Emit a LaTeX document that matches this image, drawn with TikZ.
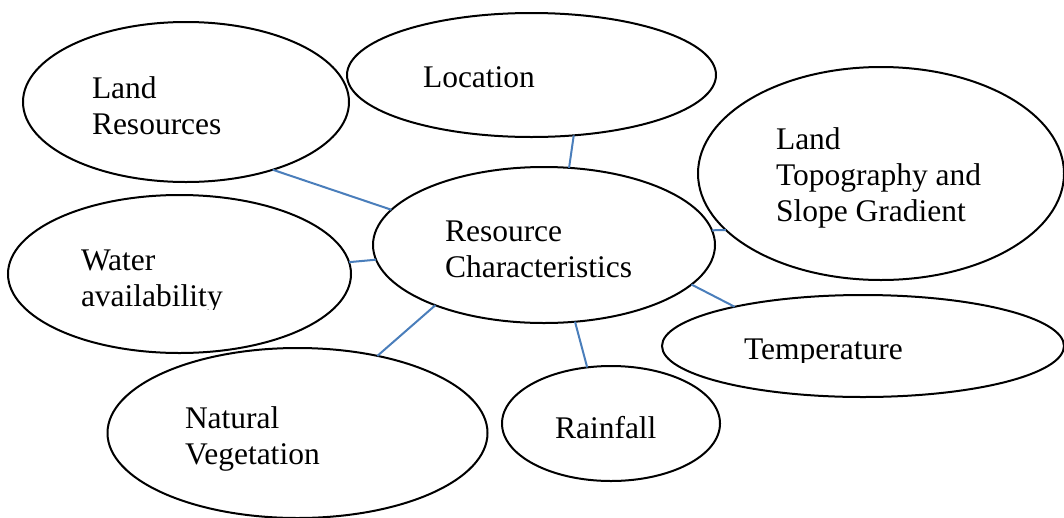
\documentclass[tikz,border=0pt]{standalone}
\usepackage{fontspec}
\setmainfont{Liberation Serif}
\usetikzlibrary{shapes.geometric}
\definecolor{linkblue}{HTML}{4A7EBB}
\newcommand{\stackedtext}[1]{\begin{tabular}[t]{@{}l@{}}#1\end{tabular}}
\tikzset{
  bubble/.style={ellipse, draw=black, line width=2pt, fill=white,
                 inner sep=0pt, outer sep=0pt},
  link/.style={draw=linkblue, line width=2pt},
  lbl/.style={anchor=base west, inner sep=0pt, outer sep=0pt,
              font=\fontsize{31.5}{36}\selectfont}
}
\begin{document}
\begin{tikzpicture}[x=1pt, y=-1pt]
  \useasboundingbox (0,0) rectangle (1064,517);

  % ellipses
  \node[bubble, minimum width=326pt, minimum height=160pt] (lr)   at (186,102)   {};
  \node[bubble, minimum width=369pt, minimum height=124pt] (loc)  at (531.5,75)  {};
  \node[bubble, minimum width=366pt, minimum height=213pt] (topo) at (881,173.5) {};
  \node[bubble, minimum width=342pt, minimum height=156pt] (rc)   at (544,245)   {};
  \node[bubble, minimum width=343pt, minimum height=158pt] (wa)   at (179.5,274) {};
  \node[bubble, minimum width=402pt, minimum height=102pt] (tmp)  at (863,346)   {};
  \node[bubble, minimum width=380pt, minimum height=170pt] (nv)   at (297.5,433) {};
  \node[bubble, minimum width=218pt, minimum height=115pt] (rf)   at (611,423.5) {};

  % connectors from the centre ellipse
  \draw[link] (rc.167.8) -- (lr.-38.4);
  \draw[link] (rc.72.9)  -- (loc.-55.3);
  \draw[link] (rc.5.4)   -- (topo.-160.9);
  \draw[link] (rc.-175.6)-- (wa.4.4);
  \draw[link] (rc.-151)  -- (nv.44.8);
  \draw[link] (rc.-68.3) -- (rf.113);
  \draw[link] (rc.-15.2) -- (tmp.163);

  % labels
  \node[lbl] (lrt)   at (92,98)   {\stackedtext{Land\\Resources}};
  \node[lbl] (loct)  at (423,87)  {Location};
  \node[lbl] (topot) at (776,149) {\stackedtext{Land\\Topography and\\Slope Gradient}};
  \node[lbl] (rct)   at (445,241) {\stackedtext{Resource\\Characteristics}};
  \begin{scope}
    \clip (0,0) rectangle (1064,309);
    \node[lbl] (wat) at (81,270) {\stackedtext{Water\\availability}};
  \end{scope}
  \begin{scope}
    \clip (0,0) rectangle (1064,362);
    \node[lbl] (tmpt) at (744,359) {Temperature};
  \end{scope}
  \node[lbl] (nvt)   at (185,428) {\stackedtext{Natural\\Vegetation}};
  \node[lbl] (rft)   at (555,438) {Rainfall};
\end{tikzpicture}
\end{document}
